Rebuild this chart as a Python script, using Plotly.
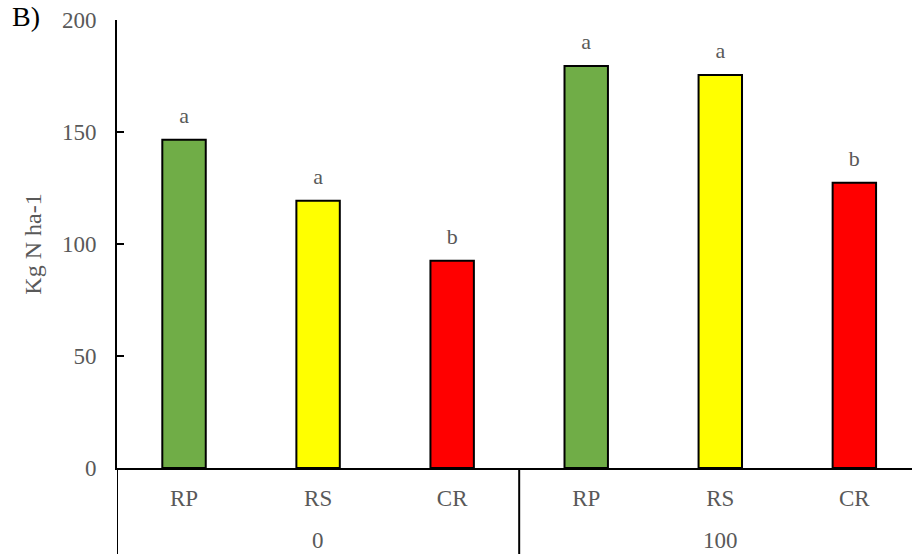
import plotly.graph_objects as go

doses = ["0", "0", "0", "100", "100", "100"]
treatments = ["RP", "RS", "CR", "RP", "RS", "CR"]
values = [146.5, 119.3, 92.5, 179.5, 175.5, 127.3]
letters = ["a", "a", "b", "a", "a", "b"]
color_map = {"RP": "#70AD47", "RS": "#FFFF00", "CR": "#FF0000"}
colors = [color_map[t] for t in treatments]

FONT = "Liberation Serif"
GREY = "#595959"
PLOT_H = 448

idx = list(range(len(treatments)))
groups = []
for i, d in enumerate(doses):
    if not groups or groups[-1][0] != d:
        groups.append([d, []])
    groups[-1][1].append(i)

fig = go.Figure()
fig.add_trace(go.Bar(
    x=idx, y=values,
    marker=dict(color=colors, line=dict(color="black", width=2)),
    showlegend=False, hoverinfo="y",
))
fig.add_trace(go.Scatter(
    x=idx, y=[v + 5 for v in values],
    mode="text", text=letters, textposition="top center",
    textfont=dict(family=FONT, size=22, color=GREY),
    showlegend=False, hoverinfo="skip",
))

annotations = [dict(
    text="B)", xref="paper", yref="paper", x=-107/795, y=1 + 3/PLOT_H,
    xanchor="left", yanchor="middle", showarrow=False,
    font=dict(family=FONT, size=28, color="black"),
)]
shapes = []
for g, members in groups:
    annotations.append(dict(
        text=g, xref="x", yref="paper", x=sum(members) / len(members), y=-72/PLOT_H,
        xanchor="center", yanchor="middle", showarrow=False,
        font=dict(family=FONT, size=23, color=GREY),
    ))
    shapes.append(dict(
        type="line", xref="x", yref="paper",
        x0=members[0] - 0.5, x1=members[0] - 0.5, y0=0, y1=-90/PLOT_H,
        line=dict(color="black", width=2),
    ))

fig.update_layout(
    width=912, height=554,
    margin=dict(l=117, r=0, t=20, b=86),
    plot_bgcolor="white", paper_bgcolor="white",
    bargap=0.676,
    font=dict(family=FONT, color=GREY, size=22),
    xaxis=dict(
        range=[-0.5, 5.43], automargin=False,
        tickvals=idx, ticktext=treatments,
        showline=True, linecolor="black", linewidth=2,
        showgrid=False, ticks="", zeroline=False,
        tickfont=dict(family=FONT, size=23, color=GREY),
        ticklabelstandoff=8,
    ),
    yaxis=dict(
        range=[0, 200], tickvals=[0, 50, 100, 150, 200], automargin=False,
        showline=True, linecolor="black", linewidth=2,
        ticks="inside", ticklen=7, tickwidth=2, tickcolor="black",
        showgrid=False, zeroline=False,
        tickfont=dict(family=FONT, size=23, color=GREY),
        ticklabelstandoff=14,
        title=dict(text="Kg N ha-1", font=dict(family=FONT, size=24, color=GREY), standoff=14),
    ),
    annotations=annotations,
    shapes=shapes,
)

fig.write_html(
    "out.html",
    config={"displayModeBar": False},
    post_script="document.body.style.margin='0';document.body.style.overflow='hidden';",
)
